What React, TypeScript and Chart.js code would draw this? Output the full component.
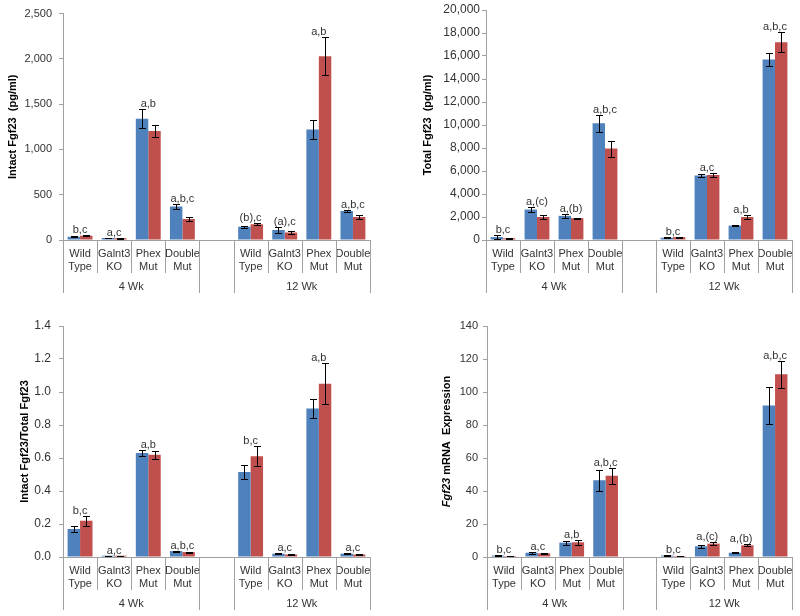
import React, { useEffect, useRef } from "react";
import { Chart, registerables } from "chart.js";
Chart.register(...registerables);

const FONT = "'Liberation Sans', Arial, sans-serif";
const BLUE = "#4F81BD";
const RED = "#C0504D";
const AXIS = "#A0A0A0";
const TXT = "#333333";

const categories: (string | string[])[] = [
  ["Wild", "Type"], ["Galnt3", "KO"], ["Phex", "Mut"], ["Double", "Mut"], "",
  ["Wild", "Type"], ["Galnt3", "KO"], ["Phex", "Mut"], ["Double", "Mut"],
];
const groups = ["4 Wk", "12 Wk"];

// Panel 1: Intact Fgf23
const intactBlue = [35, 22, 1340, 370, null, 145, 110, 1220, 320];
const intactBlueErr = [5, 4, 108, 30, null, 15, 30, 110, 15];
const intactRed = [47, 18, 1203, 232, null, 174, 83, 2029, 254];
const intactRedErr = [5, 3, 65, 25, null, 12, 12, 210, 25];
const intactNotes = ["b,c", "a,c", "a,b", "a,b,c", "", "(b),c", "(a),c", "a,b", "a,b,c"];

// Panel 2: Total Fgf23
const totalBlue = [250, 2650, 2100, 10150, null, 200, 5600, 1250, 15700];
const totalBlueErr = [150, 250, 150, 750, null, 30, 150, 60, 600];
const totalRed = [150, 2000, 1900, 7950, null, 250, 5650, 2000, 17200];
const totalRedErr = [20, 150, 50, 700, null, 40, 200, 150, 850];
const totalNotes = ["b,c", "a,(c)", "a,(b)", "a,b,c", "", "b,c", "a,c", "a,b", "a,b,c"];

// Panel 3: Intact / Total ratio
const ratioBlue = [0.17, 0.008, 0.63, 0.036, null, 0.515, 0.02, 0.9, 0.02];
const ratioBlueErr = [0.02, 0.001, 0.02, 0.003, null, 0.045, 0.003, 0.06, 0.002];
const ratioRed = [0.22, 0.008, 0.62, 0.03, null, 0.61, 0.015, 1.05, 0.015];
const ratioRedErr = [0.03, 0.001, 0.025, 0.003, null, 0.06, 0.002, 0.125, 0.002];
const ratioNotes = ["b,c", "a,c", "a,b", "a,b,c", "", "b,c", "a,c", "a,b", "a,c"];

// Panel 4: Fgf23 mRNA expression
const mrnaBlue = [0.9, 2.6, 8.7, 46.5, null, 0.9, 6.5, 2.6, 91.8];
const mrnaBlueErr = [0.1, 0.5, 1.3, 6.5, null, 0.1, 0.8, 0.3, 11];
const mrnaRed = [0.6, 2.2, 8.9, 49.2, null, 0.6, 8.1, 7.1, 110.7];
const mrnaRedErr = [0.1, 0.3, 1.6, 5, null, 0.1, 0.8, 0.6, 8];
const mrnaNotes = ["b,c", "a,c", "a,b", "a,b,c", "", "b,c", "a,(c)", "a,(b)", "a,b,c"];

type TitlePart = { text: string; italic?: boolean };

type PanelCfg = {
  blue: (number | null)[];
  blueErr: (number | null)[];
  red: (number | null)[];
  redErr: (number | null)[];
  notes: string[];
  max: number;
  step: number;
  fmt: (v: number) => string;
  title: TitlePart[];
  left: number;
  right: number;
  top: number;
  bottom: number;
  titleX: number;
  tickPad: number;
  tickSize: number;
};

const W = 400;
const H = 308;

function Panel({ cfg, x, y }: { cfg: PanelCfg; x: number; y: number }) {
  const ref = useRef<HTMLCanvasElement | null>(null);
  useEffect(() => {
    const canvas = ref.current;
    if (!canvas) return;
    const errs = [cfg.blueErr, cfg.redErr];
    const vals = [cfg.blue, cfg.red];
    const plugin = {
      id: "extras",
      afterDatasetsDraw(chart: any) {
        const ctx = chart.ctx as CanvasRenderingContext2D;
        const ys = chart.scales.y;
        const xs = chart.scales.x;
        ctx.save();
        ctx.strokeStyle = "#000";
        ctx.lineWidth = 1;
        const tops: number[] = [];
        for (let d = 0; d < 2; d++) {
          const meta = chart.getDatasetMeta(d);
          meta.data.forEach((bar: any, i: number) => {
            const v = vals[d][i];
            const e = errs[d][i];
            if (v == null || e == null) return;
            const bx = Math.round(bar.x) + 0.5;
            const yt = Math.round(ys.getPixelForValue(v + e)) + 0.5;
            const yb = Math.round(ys.getPixelForValue(Math.max(0, v - e))) + 0.5;
            ctx.beginPath();
            ctx.moveTo(bx, yt);
            ctx.lineTo(bx, yb);
            ctx.moveTo(bx - 3.5, yt);
            ctx.lineTo(bx + 3.5, yt);
            ctx.moveTo(bx - 3.5, yb);
            ctx.lineTo(bx + 3.5, yb);
            ctx.stroke();
            tops[i] = Math.min(tops[i] ?? Infinity, yt);
          });
        }
        ctx.fillStyle = TXT;
        ctx.font = `11px ${FONT}`;
        ctx.textAlign = "center";
        ctx.textBaseline = "alphabetic";
        cfg.notes.forEach((n, i) => {
          if (!n || tops[i] == null) return;
          ctx.fillText(n, xs.getPixelForValue(i), tops[i] - 3);
        });
        ctx.restore();
      },
      afterDraw(chart: any) {
        const ctx = chart.ctx as CanvasRenderingContext2D;
        const area = chart.chartArea;
        const n = categories.length;
        const slot = (area.right - area.left) / n;
        ctx.save();
        ctx.strokeStyle = AXIS;
        ctx.lineWidth = 1;
        for (let k = 0; k <= n; k++) {
          const bx = Math.round(area.left + k * slot) + 0.5;
          const long = k === 0 || k === 4 || k === 5 || k === n;
          ctx.beginPath();
          ctx.moveTo(bx, area.bottom);
          ctx.lineTo(bx, area.bottom + (long ? 53 : 33));
          ctx.stroke();
        }
        ctx.fillStyle = TXT;
        ctx.font = `11px ${FONT}`;
        ctx.textAlign = "center";
        ctx.textBaseline = "middle";
        ctx.fillText(groups[0], area.left + 2 * slot, area.bottom + 47);
        ctx.fillText(groups[1], area.left + 7 * slot, area.bottom + 47);
        // y title
        ctx.translate(cfg.titleX, (area.top + area.bottom) / 2);
        ctx.rotate(-Math.PI / 2);
        ctx.fillStyle = "#000";
        ctx.textAlign = "left";
        const fonts = cfg.title.map((p) => `${p.italic ? "italic " : ""}bold 11px ${FONT}`);
        let total = 0;
        const widths = cfg.title.map((p, i) => {
          ctx.font = fonts[i];
          const w = ctx.measureText(p.text).width;
          total += w;
          return w;
        });
        let cx = -total / 2;
        cfg.title.forEach((p, i) => {
          ctx.font = fonts[i];
          ctx.fillText(p.text, cx, 0);
          cx += widths[i];
        });
        ctx.restore();
      },
    };
    const chart = new Chart(canvas, {
      type: "bar",
      data: {
        labels: categories as any,
        datasets: [
          { label: "Series 1", data: cfg.blue as any, backgroundColor: BLUE, borderWidth: 0 },
          { label: "Series 2", data: cfg.red as any, backgroundColor: RED, borderWidth: 0 },
        ],
      },
      options: {
        responsive: false,
        animation: false,
        devicePixelRatio: 1,
        datasets: { bar: { categoryPercentage: 0.73, barPercentage: 1.0 } },
        layout: { padding: { left: 0, right: W - cfg.right, top: cfg.top, bottom: 0 } },
        plugins: { legend: { display: false }, tooltip: { enabled: false }, title: { display: false } },
        scales: {
          x: {
            offset: true,
            grid: { display: false, drawTicks: false },
            border: { display: true, color: AXIS, width: 1 },
            ticks: {
              color: TXT,
              font: { family: FONT, size: 11 },
              padding: 7,
              maxRotation: 0,
              minRotation: 0,
              autoSkip: false,
            },
            afterFit: (s: any) => {
              s.height = H - cfg.bottom;
            },
          },
          y: {
            min: 0,
            max: cfg.max,
            grid: { display: true, drawOnChartArea: false, drawTicks: true, tickLength: 4, color: AXIS },
            border: { display: true, color: AXIS, width: 1 },
            ticks: {
              stepSize: cfg.step,
              color: TXT,
              font: { family: FONT, size: cfg.tickSize },
              padding: cfg.tickPad,
              callback: (v: any) => cfg.fmt(Number(v)),
            },
            afterFit: (s: any) => {
              s.width = cfg.left;
            },
          },
        },
      },
      plugins: [plugin],
    });
    return () => chart.destroy();
  }, [cfg]);
  return (
    <canvas
      ref={ref}
      width={W}
      height={H}
      style={{ position: "absolute", left: x, top: y, width: W, height: H }}
    />
  );
}

const comma = (v: number) => Math.round(v).toLocaleString("en-US");

const panels: PanelCfg[] = [
  {
    blue: intactBlue, blueErr: intactBlueErr, red: intactRed, redErr: intactRedErr, notes: intactNotes,
    max: 2500, step: 500, fmt: comma, title: [{ text: "Intact Fgf23  (pg/ml)" }],
    left: 63, right: 370, top: 10, bottom: 240, titleX: 13, tickPad: 7, tickSize: 11,
  },
  {
    blue: totalBlue, blueErr: totalBlueErr, red: totalRed, redErr: totalRedErr, notes: totalNotes,
    max: 20000, step: 2000, fmt: comma, title: [{ text: "Total Fgf23  (pg/ml)" }],
    left: 86, right: 392, top: 10, bottom: 240, titleX: 28, tickPad: 2, tickSize: 12,
  },
  {
    blue: ratioBlue, blueErr: ratioBlueErr, red: ratioRed, redErr: ratioRedErr, notes: ratioNotes,
    max: 1.4, step: 0.2, fmt: (v) => v.toFixed(1), title: [{ text: "Intact Fgf23/Total Fgf23" }],
    left: 63, right: 370, top: 18, bottom: 249, titleX: 25, tickPad: 8, tickSize: 12,
  },
  {
    blue: mrnaBlue, blueErr: mrnaBlueErr, red: mrnaRed, redErr: mrnaRedErr, notes: mrnaNotes,
    max: 140, step: 20, fmt: (v) => String(Math.round(v)),
    title: [{ text: "Fgf23", italic: true }, { text: " mRNA  Expression" }],
    left: 87, right: 392, top: 18, bottom: 249, titleX: 47, tickPad: 5, tickSize: 11,
  },
];

export default function App() {
  return (
    <div style={{ position: "absolute", left: 0, top: 0, width: 800, height: 616, background: "#fff" }}>
      <Panel cfg={panels[0]} x={0} y={0} />
      <Panel cfg={panels[1]} x={400} y={0} />
      <Panel cfg={panels[2]} x={0} y={308} />
      <Panel cfg={panels[3]} x={400} y={308} />
    </div>
  );
}
